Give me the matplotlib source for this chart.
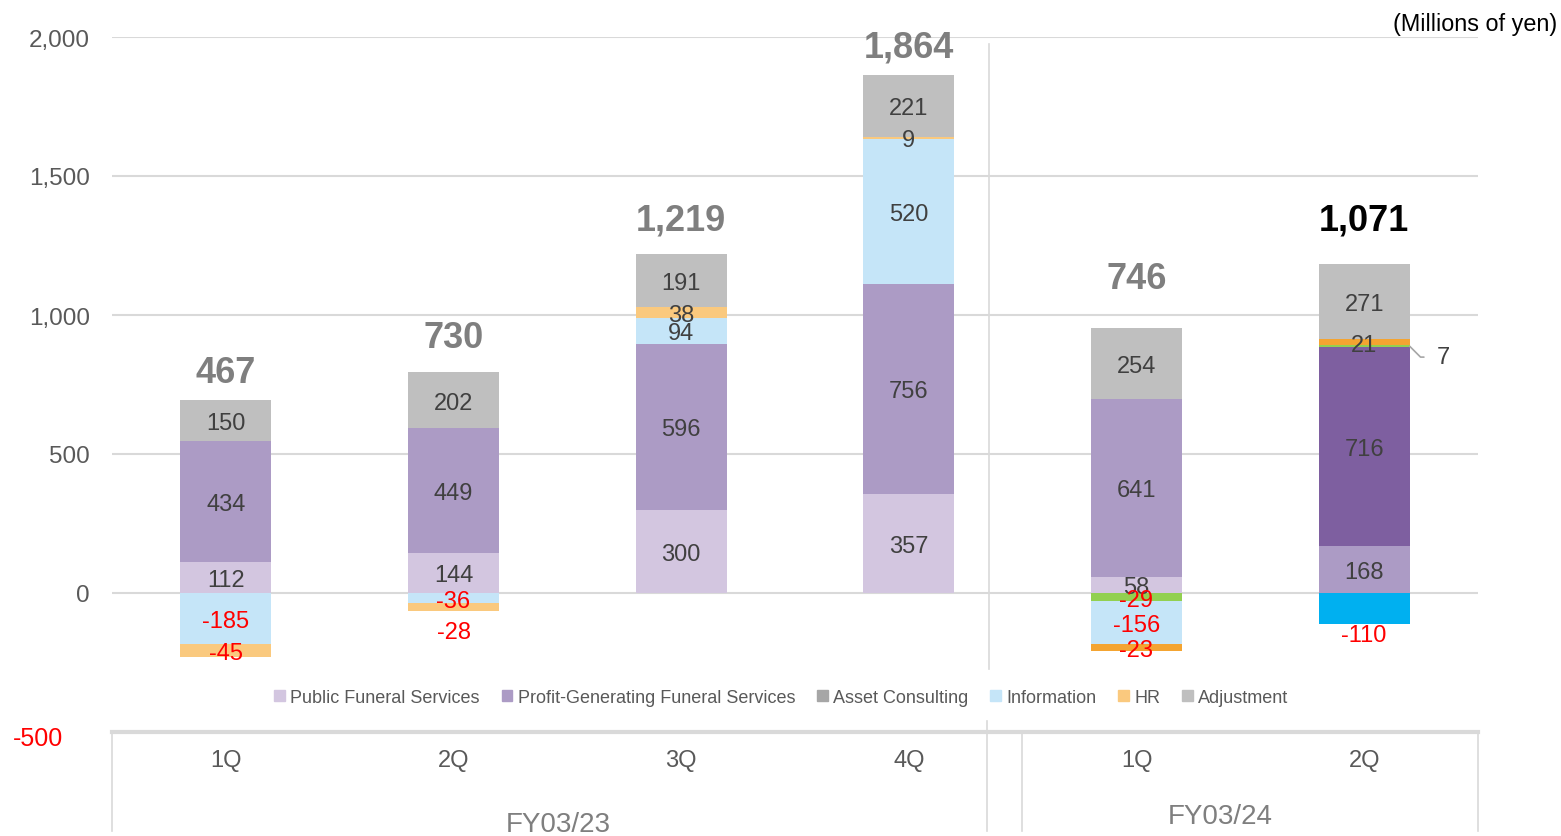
import numpy as np
import matplotlib
matplotlib.use("Agg")
import matplotlib.pyplot as plt
from matplotlib.patches import Patch

plt.rcParams["font.family"] = ["Liberation Sans", "DejaVu Sans"]

# ---- data ----
quarters = ["1Q", "2Q", "3Q", "4Q", "1Q", "2Q"]
fiscal_years = ["FY03/23", "FY03/24"]
public_funeral = [112, 144, 300, 357, 58, 168]
profit_funeral = [434, 449, 596, 756, 641, 716]
asset_consulting = [0, 0, 0, 0, -29, 7]
information = [-185, -36, 94, 520, -156, -110]
hr = [-45, -28, 38, 9, -23, 21]
adjustment = [150, 202, 191, 221, 254, 271]
totals = [467, 730, 1219, 1864, 746, 1071]

legend_names = ["Public Funeral Services", "Profit-Generating Funeral Services",
                "Asset Consulting", "Information", "HR", "Adjustment"]
legend_colors = ["#D3C6E0", "#AC9BC5", "#A6A6A6", "#C5E5F8", "#FAC97E", "#BFBFBF"]

# bar colours per quarter (the latest quarters use other shades)
series = [
    (public_funeral, ["#D3C6E0"] * 5 + ["#AC9BC5"]),
    (profit_funeral, ["#AC9BC5"] * 5 + ["#7E5FA0"]),
    (asset_consulting, ["#92D050"] * 6),
    (information, ["#C5E5F8"] * 5 + ["#00B0F0"]),
    (hr, ["#FAC97E"] * 4 + ["#F4A431"] * 2),
    (adjustment, ["#BFBFBF"] * 6),
]

# label placement tweaks: (series index, bar index) -> (mode, shift)
special = {(4, 1): ("below", 35), (3, 5): ("below", 3), (2, 5): ("right", 0)}
total_offsets = [112, 137, 137, 115, 194, 173]
total_colors = ["#7F7F7F"] * 5 + ["#000000"]

fig = plt.figure(figsize=(15.61, 8.37), dpi=100)
ax = fig.add_axes([112 / 1561, 1 - 733 / 837, (1478 - 112) / 1561, (733 - 38) / 837])

x = np.arange(len(quarters))
w = 0.4
pos_bottom = np.zeros(len(x))
neg_bottom = np.zeros(len(x))

for si, (vals, cols) in enumerate(series):
    vals = np.array(vals, dtype=float)
    bottoms = np.where(vals >= 0, pos_bottom, neg_bottom)
    ax.bar(x, vals, w, bottom=bottoms, color=cols, zorder=3)
    for i, v in enumerate(vals):
        if v == 0:
            continue
        mid = bottoms[i] + v / 2
        col = "#404040" if v > 0 else "red"
        mode, shift = special.get((si, i), ("center", 0))
        if mode == "below":
            ax.text(x[i], bottoms[i] + v - shift, f"{int(v)}", ha="center", va="top",
                    fontsize=17, color=col, zorder=5)
        elif mode == "right":
            ax.annotate(f"{int(v)}", xy=(x[i] + w / 2, mid), xytext=(24, -6),
                        textcoords="offset points", ha="center", va="center_baseline",
                        fontsize=17, color=col,
                        arrowprops=dict(arrowstyle="-", color="#A6A6A6", lw=1.2,
                                        shrinkA=7, shrinkB=0,
                                        connectionstyle="angle,angleA=0,angleB=-45,rad=0"))
        else:
            ax.text(x[i], mid, f"{int(v)}", ha="center", va="center_baseline",
                    fontsize=17, color=col, zorder=5)
    pos_bottom = pos_bottom + np.where(vals > 0, vals, 0)
    neg_bottom = neg_bottom + np.where(vals < 0, vals, 0)

for i, t in enumerate(totals):
    ax.text(x[i], pos_bottom[i] + total_offsets[i], f"{t:,}", ha="center",
            va="center_baseline", fontsize=26, fontweight="bold",
            color=total_colors[i], zorder=5)

ax.set_xlim(-0.5, 5.5)
ax.set_ylim(-500, 2000)
ax.set_yticks([0, 500, 1000, 1500, 2000])
ax.set_yticklabels([f"{v:,}" for v in [0, 500, 1000, 1500, 2000]])
ax.tick_params(axis="y", length=0, labelsize=17.5, labelcolor="#595959", pad=16)
ax.tick_params(axis="x", length=0, labelbottom=False)
ax.grid(axis="y", color="#D9D9D9", lw=1.5, zorder=0)
for s in ["top", "right", "left"]:
    ax.spines[s].set_visible(False)
ax.spines["bottom"].set_color("#D9D9D9")
ax.spines["bottom"].set_linewidth(3)
fig.text(38 / 1561, 1 - 739 / 837, "-500", ha="center", va="center",
         fontsize=18, color="red")

# separator between fiscal years
ax.plot([3.35, 3.35], [1975, -275], color="#D9D9D9", lw=1.2, zorder=1, clip_on=False)

# legend inside plot
handles = [Patch(color=c, label=n) for n, c in zip(legend_names, legend_colors)]
ax.legend(handles=handles, loc="center", bbox_to_anchor=(0.49, 0.05), ncol=6,
          frameon=False, fontsize=13, labelcolor="#595959", handlelength=0.6,
          handleheight=0.6, handletextpad=0.3, columnspacing=1.2)

# category axis below
for q, xi in zip(quarters, x):
    fig.text((112 + (xi + 0.5) * 227.67) / 1561, 1 - 761 / 837, q, ha="center",
             va="center", fontsize=17, color="#595959")
fig.text(558 / 1561, 1 - 825 / 837, fiscal_years[0], ha="center", va="center",
         fontsize=20, color="#7F7F7F")
fig.text(1220 / 1561, 1 - 817 / 837, fiscal_years[1], ha="center", va="center",
         fontsize=20, color="#7F7F7F")
for px, y0 in [(112, 733), (987, 722), (1022, 733), (1478, 733)]:
    fig.add_artist(plt.Line2D([px / 1561, px / 1561], [1 - y0 / 837, 1 - 832 / 837],
                              color="#D9D9D9", lw=1.2))

fig.text(1557 / 1561, 1 - 25 / 837, "(Millions of yen)", ha="right", va="center",
         fontsize=16.8, color="black")

fig.savefig("out.png", dpi=100)
